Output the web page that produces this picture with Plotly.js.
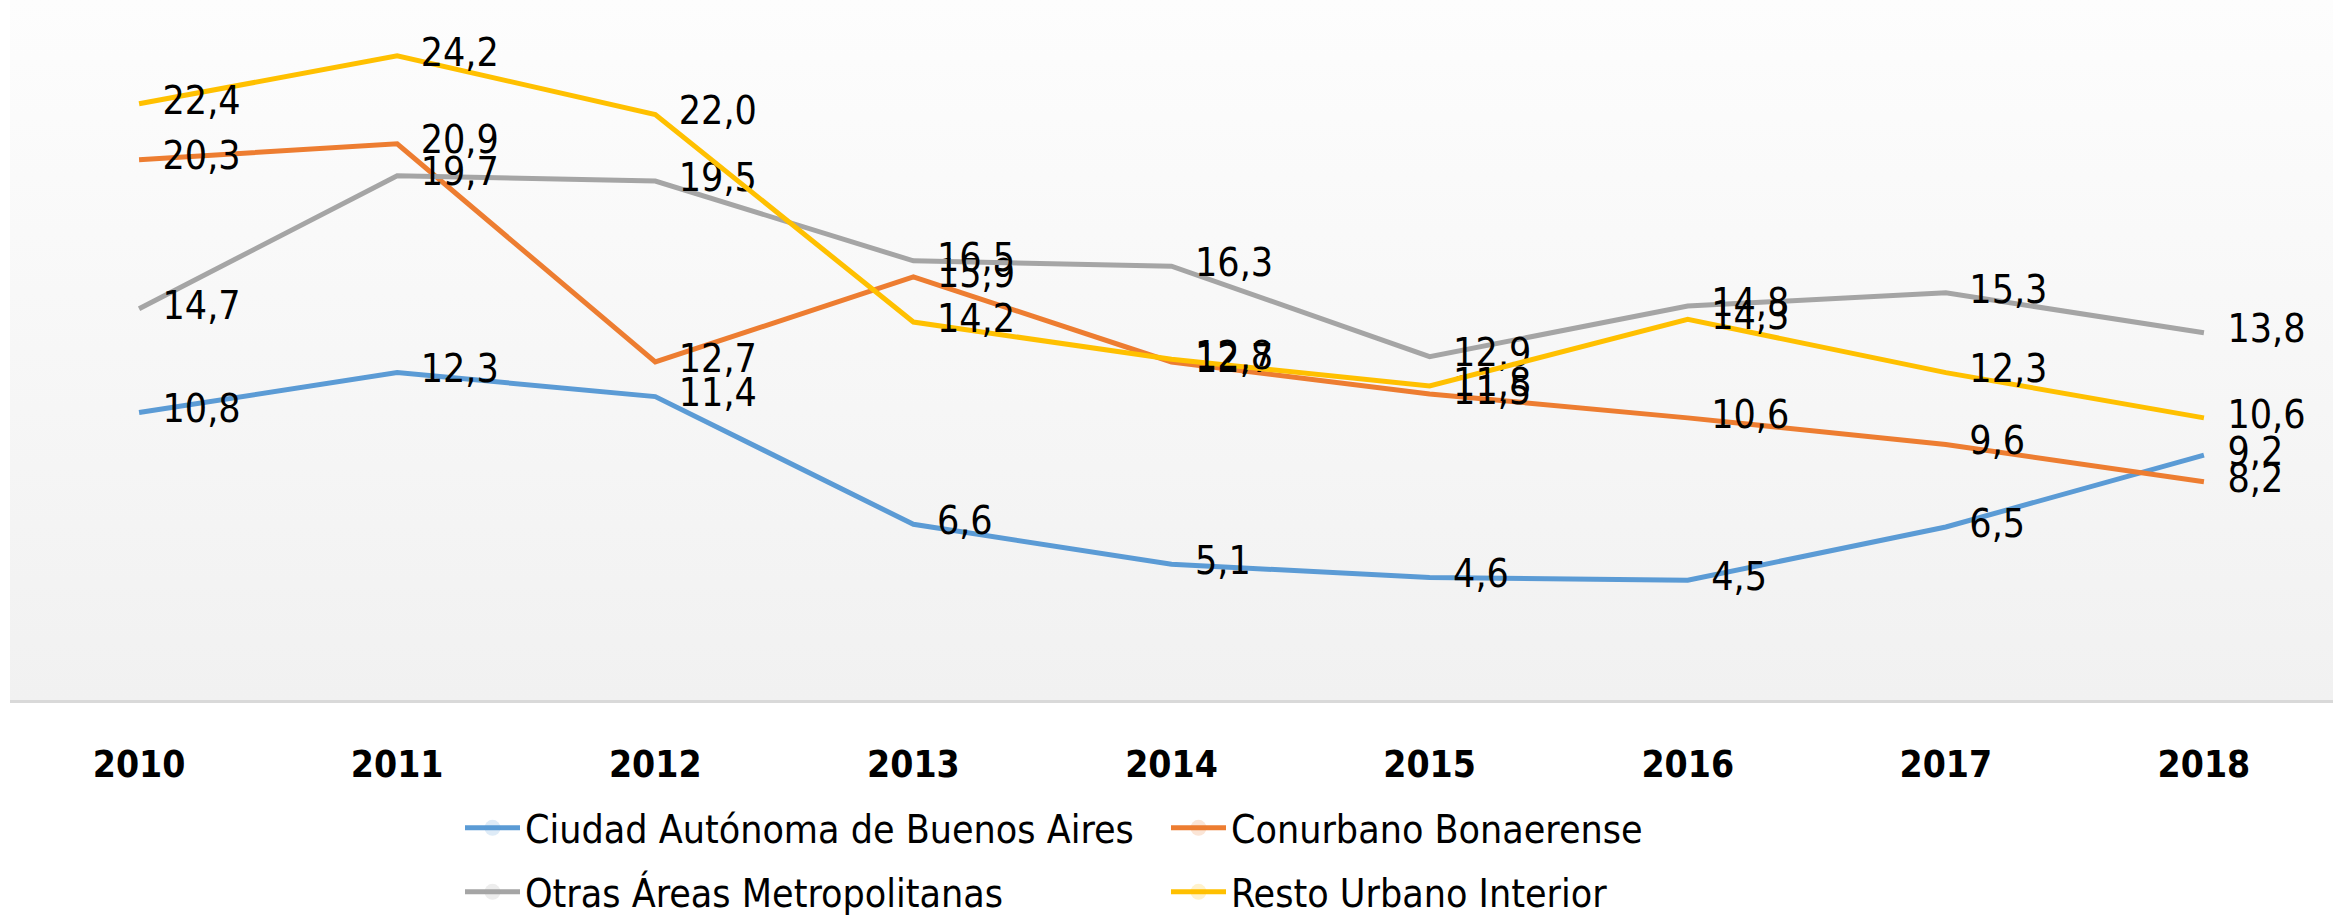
<!DOCTYPE html>
<html>
<head>
<meta charset="utf-8">
<script src="https://cdn.plot.ly/plotly-3.0.1.min.js"></script>
<style>
  html, body { margin: 0; padding: 0; background: #ffffff; }
  #chart { width: 2333px; height: 920px; }
</style>
</head>
<body>
<div id="chart"></div>
<script>
const years = ["2010", "2011", "2012", "2013", "2014", "2015", "2016", "2017", "2018"];
const seriesNames = [
  "Ciudad Autónoma de Buenos Aires",
  "Conurbano Bonaerense",
  "Otras Áreas Metropolitanas",
  "Resto Urbano Interior"
];
const caba = [10.8, 12.3, 11.4, 6.6, 5.1, 4.6, 4.5, 6.5, 9.2];
const conurbano = [20.3, 20.9, 12.7, 15.9, 12.7, 11.5, 10.6, 9.6, 8.2];
const otras = [14.7, 19.7, 19.5, 16.5, 16.3, 12.9, 14.8, 15.3, 13.8];
const resto = [22.4, 24.2, 22.0, 14.2, 12.8, 11.8, 14.3, 12.3, 10.6];
const colors = ["#5B9BD5", "#ED7D31", "#A5A5A5", "#FFC000"];

const FONT = '"DejaVu Sans Condensed", "Liberation Sans Narrow", Roboto, sans-serif';
const fmt = v => v.toFixed(1).replace('.', ',');

const allSeries = [caba, conurbano, otras, resto];
const legendIds = ['legend', 'legend2', 'legend3', 'legend4'];

const traces = allSeries.map((vals, i) => ({
  type: 'scatter',
  mode: 'lines+markers+text',
  name: seriesNames[i],
  x: years,
  y: vals,
  text: vals.map(fmt),
  textposition: 'middle right',
  textfont: { family: FONT, size: 39, color: '#000000' },
  line: { color: colors[i], width: 5 },
  marker: { size: 36, opacity: 0, color: colors[i] },
  cliponaxis: false,
  legend: legendIds[i],
  hoverinfo: 'x+y+name'
}));

const gradSvg = '<svg xmlns="http://www.w3.org/2000/svg" width="100" height="100" preserveAspectRatio="none">' +
  '<defs><linearGradient id="g" x1="0" y1="0" x2="0" y2="1">' +
  '<stop offset="0" stop-color="#fdfdfd"/><stop offset="1" stop-color="#f1f1f1"/>' +
  '</linearGradient></defs><rect width="100" height="100" fill="url(#g)"/></svg>';
const gradUri = 'data:image/svg+xml;charset=utf-8,' + encodeURIComponent(gradSvg);

function legendAt(xpx, ypx) {
  return {
    x: (xpx - 10) / 2323,
    y: (700 - ypx) / 700,
    xanchor: 'left',
    yanchor: 'middle',
    orientation: 'h',
    bgcolor: 'rgba(0,0,0,0)',
    borderwidth: 0,
    itemwidth: 55,
    font: { family: FONT, size: 39, color: '#000000' }
  };
}

const layout = {
  width: 2333,
  height: 920,
  margin: { l: 10, r: 0, t: 0, b: 220, pad: 0, autoexpand: false },
  paper_bgcolor: '#ffffff',
  plot_bgcolor: 'rgba(0,0,0,0)',
  showlegend: true,
  images: [{
    source: gradUri,
    xref: 'paper', yref: 'paper',
    x: 0, y: 1, sizex: 1, sizey: 1,
    xanchor: 'left', yanchor: 'top',
    sizing: 'stretch',
    layer: 'below'
  }],
  xaxis: {
    type: 'category',
    range: [-0.5, 8.5],
    showgrid: false,
    zeroline: false,
    showline: true,
    linecolor: '#d9d9d9',
    linewidth: 3,
    ticks: '',
    automargin: false,
    ticklabelstandoff: 30,
    tickfont: { family: FONT, size: 37, color: '#000000', weight: 'bold' }
  },
  yaxis: {
    range: [0, 26.3],
    showgrid: false,
    zeroline: false,
    showline: false,
    showticklabels: false,
    automargin: false,
    ticks: ''
  },
  legend: legendAt(460, 828),
  legend2: legendAt(1166, 828),
  legend3: legendAt(460, 892),
  legend4: legendAt(1166, 892)
};

Plotly.newPlot('chart', traces, layout, { displayModeBar: false, staticPlot: true });
</script>
</body>
</html>
